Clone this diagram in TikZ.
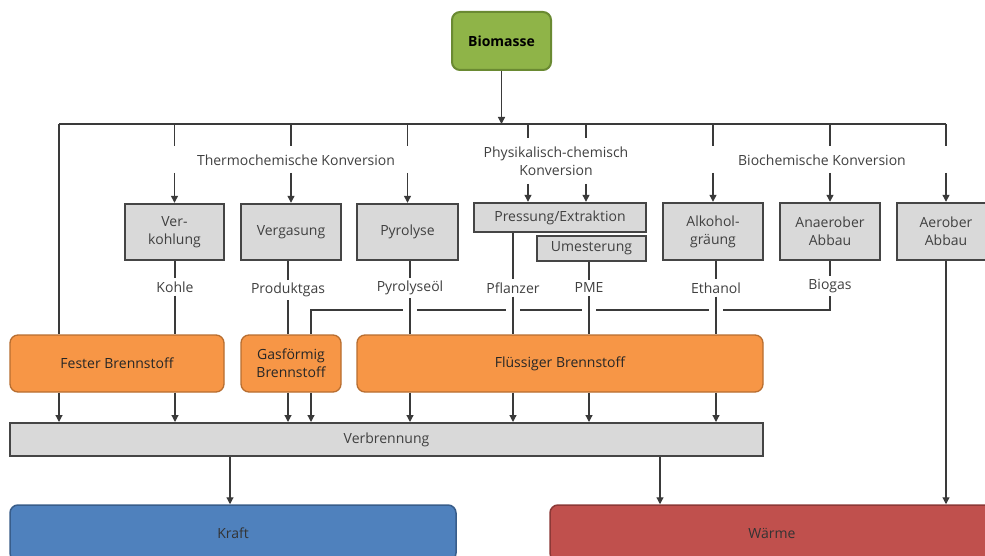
\documentclass[tikz,border=0pt]{standalone}
\usepackage{fontspec}
\setmainfont{Open Sans}
\usetikzlibrary{arrows.meta,calc}
\definecolor{lineC}{HTML}{3A3A3A}
\definecolor{txt}{HTML}{404040}
\definecolor{grayF}{HTML}{D9D9D9}
\definecolor{grayB}{HTML}{454545}
\definecolor{greenF}{HTML}{8FB448}
\definecolor{greenB}{HTML}{6A8A32}
\definecolor{orF}{HTML}{F79646}
\definecolor{orB}{HTML}{B86E30}
\definecolor{blF}{HTML}{4F81BD}
\definecolor{blB}{HTML}{385D8A}
\definecolor{rdF}{HTML}{C0504D}
\definecolor{rdB}{HTML}{8C3836}
\begin{document}
\begin{tikzpicture}[x=1pt,y=-1pt,
  font=\fontsize{14}{18}\selectfont,
  ln/.style={draw=lineC, line width=1.2pt},
  arr/.style={ln, -{Triangle[width=7pt,length=7pt]}},
  gbox/.style={draw=grayB, fill=grayF, line width=2.4pt, text=txt, align=center, inner sep=0pt},
  obox/.style={draw=orB, fill=orF, line width=1.3pt, rounded corners=8pt, text=black!85, align=center, inner sep=0pt},
  lbl/.style={text=txt, inner sep=3pt},
]
\clip (0,0) rectangle (985,556);
\fill[white] (0,0) rectangle (985,556);

% top
\node[draw=greenB, fill=greenF, line width=2pt, rounded corners=8pt, minimum width=99pt, minimum height=58pt, font=\fontsize{14}{18}\selectfont\bfseries] (bio) at (501.5,41) {Biomasse};

\coordinate (busL) at (59,124);
\coordinate (busR) at (946,124);
\coordinate (st1) at (0,146);
\coordinate (ar1) at (0,173);
\coordinate (pst) at (0,138);
\coordinate (par) at (0,184);
\coordinate (p1) at (528,0);
\coordinate (p2) at (586,0);
\coordinate (hb) at (311,310);
\coordinate (k1) at (230,0);
\coordinate (w1) at (660,0);

% group labels
\node[lbl] (thermo) at (296,160) {Thermochemische Konversion};
\node[lbl, align=center] (phys) at (556,161) {Physikalisch-chemisch\\Konversion};
\node[lbl] (bioch) at (822,160) {Biochemische Konversion};

% process boxes
\node[gbox, minimum width=99pt, minimum height=56pt] (verk) at (174.5,232) {Ver-\\kohlung};
\node[gbox, minimum width=100pt, minimum height=56pt] (verg) at (291,232) {Vergasung};
\node[gbox, minimum width=101pt, minimum height=56pt] (pyro) at (407.5,232) {Pyrolyse};
\node[gbox, minimum width=172pt, minimum height=29pt] (pres) at (560,217.5) {Pressung/Extraktion};
\node[gbox, minimum width=109pt, minimum height=25pt] (ume) at (591.5,248.5) {Umesterung};
\node[gbox, minimum width=100pt, minimum height=57pt] (alk) at (713,231.5) {Alkohol-\\gräung};
\node[gbox, minimum width=100pt, minimum height=57pt] (anae) at (830,231.5) {Anaerober\\Abbau};
\node[gbox, minimum width=98pt, minimum height=57pt] (aer) at (946,231.5) {Aerober\\Abbau};

% product labels
\node[lbl] (kohle) at (175,287) {Kohle};
\node[lbl] (prod) at (288,290) {Produktgas};
\node[lbl] (pyrol) at (410,288) {Pyrolyseöl};
\node[lbl] (pflz) at (513,288) {Pflanzer};
\node[lbl] (pme) at (589,288) {PME};
\node[lbl] (eth) at (716,288) {Ethanol};
\node[lbl] (biog) at (830,286) {Biogas};

% fuel boxes
\node[obox, minimum width=214pt, minimum height=57pt] (fest) at (117,363.5) {Fester Brennstoff};
\node[obox, minimum width=100pt, minimum height=57pt] (gas) at (291,363.5) {Gasförmig\\Brennstoff};
\node[obox, minimum width=406pt, minimum height=57pt] (flus) at (560,363.5) {Flüssiger Brennstoff};

% combustion
\node[gbox, minimum width=753pt, minimum height=33pt, line width=2pt] (verb) at (386.5,439.5) {Verbrennung};

% outputs
\node[draw=blB, fill=blF, line width=1.5pt, rounded corners=8pt, minimum width=446pt, minimum height=56pt, text=black!80] (kraft) at (233,533) {Kraft};
\node[draw=rdB, fill=rdF, line width=1.5pt, rounded corners=8pt, minimum width=444pt, minimum height=56pt, text=black!80] (warm) at (772,533) {Wärme};

% bus
\draw[arr] (bio.south) -- (bio.south |- busL);
\draw[ln] (busL) -- (busR);
\draw[ln] (busL) -- (busL |- fest.north);

% thermo stubs and arrows
\foreach \n in {verk,verg,pyro,alk,anae,aer}{
  \draw[ln] (\n.north |- busL) -- (\n.north |- st1);
  \draw[arr] (\n.north |- ar1) -- (\n.north);
}
\foreach \p in {p1,p2}{
  \draw[ln] (\p |- busL) -- (\p |- pst);
  \draw[arr] (\p |- par) -- (\p |- pres.north);
}

% product lines upper
\draw[ln] (kohle.north |- verk.south) -- (kohle.north);
\draw[ln] (prod.north |- verg.south) -- (prod.north);
\draw[ln] (pyrol.north |- pyro.south) -- (pyrol.north);
\draw[ln] (pflz.north |- pres.south) -- (pflz.north);
\draw[ln] (pme.north |- ume.south) -- (pme.north);
\draw[ln] (eth.north |- alk.south) -- (eth.north);
\draw[ln] (biog.north |- anae.south) -- (biog.north);

% biogas line with crossings
\draw[ln] (biog.south) |- (hb) -- (hb |- gas.north);
\foreach \n in {pyrol,pflz,pme,eth}{
  \fill[white] ($(\n.south |- hb)+(-7,-2)$) rectangle ++(14,4);
}

% product lines lower
\draw[ln] (kohle.south) -- (kohle.south |- fest.north);
\draw[ln] (prod.south) -- (prod.south |- gas.north);
\foreach \n in {pyrol,pflz,pme,eth}{
  \draw[ln] (\n.south) -- (\n.south |- flus.north);
}

% to combustion
\draw[arr] (busL |- fest.south) -- (busL |- verb.north);
\draw[arr] (kohle.south |- fest.south) -- (kohle.south |- verb.north);
\draw[arr] (prod.south |- gas.south) -- (prod.south |- verb.north);
\draw[arr] (hb |- gas.south) -- (hb |- verb.north);
\foreach \n in {pyrol,pflz,pme,eth}{
  \draw[arr] (\n.south |- flus.south) -- (\n.south |- verb.north);
}

% outputs
\draw[arr] (k1 |- verb.south) -- (k1 |- kraft.north);
\draw[arr] (w1 |- verb.south) -- (w1 |- warm.north);
\draw[arr] (aer.south) -- (aer.south |- warm.north);
\end{tikzpicture}
\end{document}
